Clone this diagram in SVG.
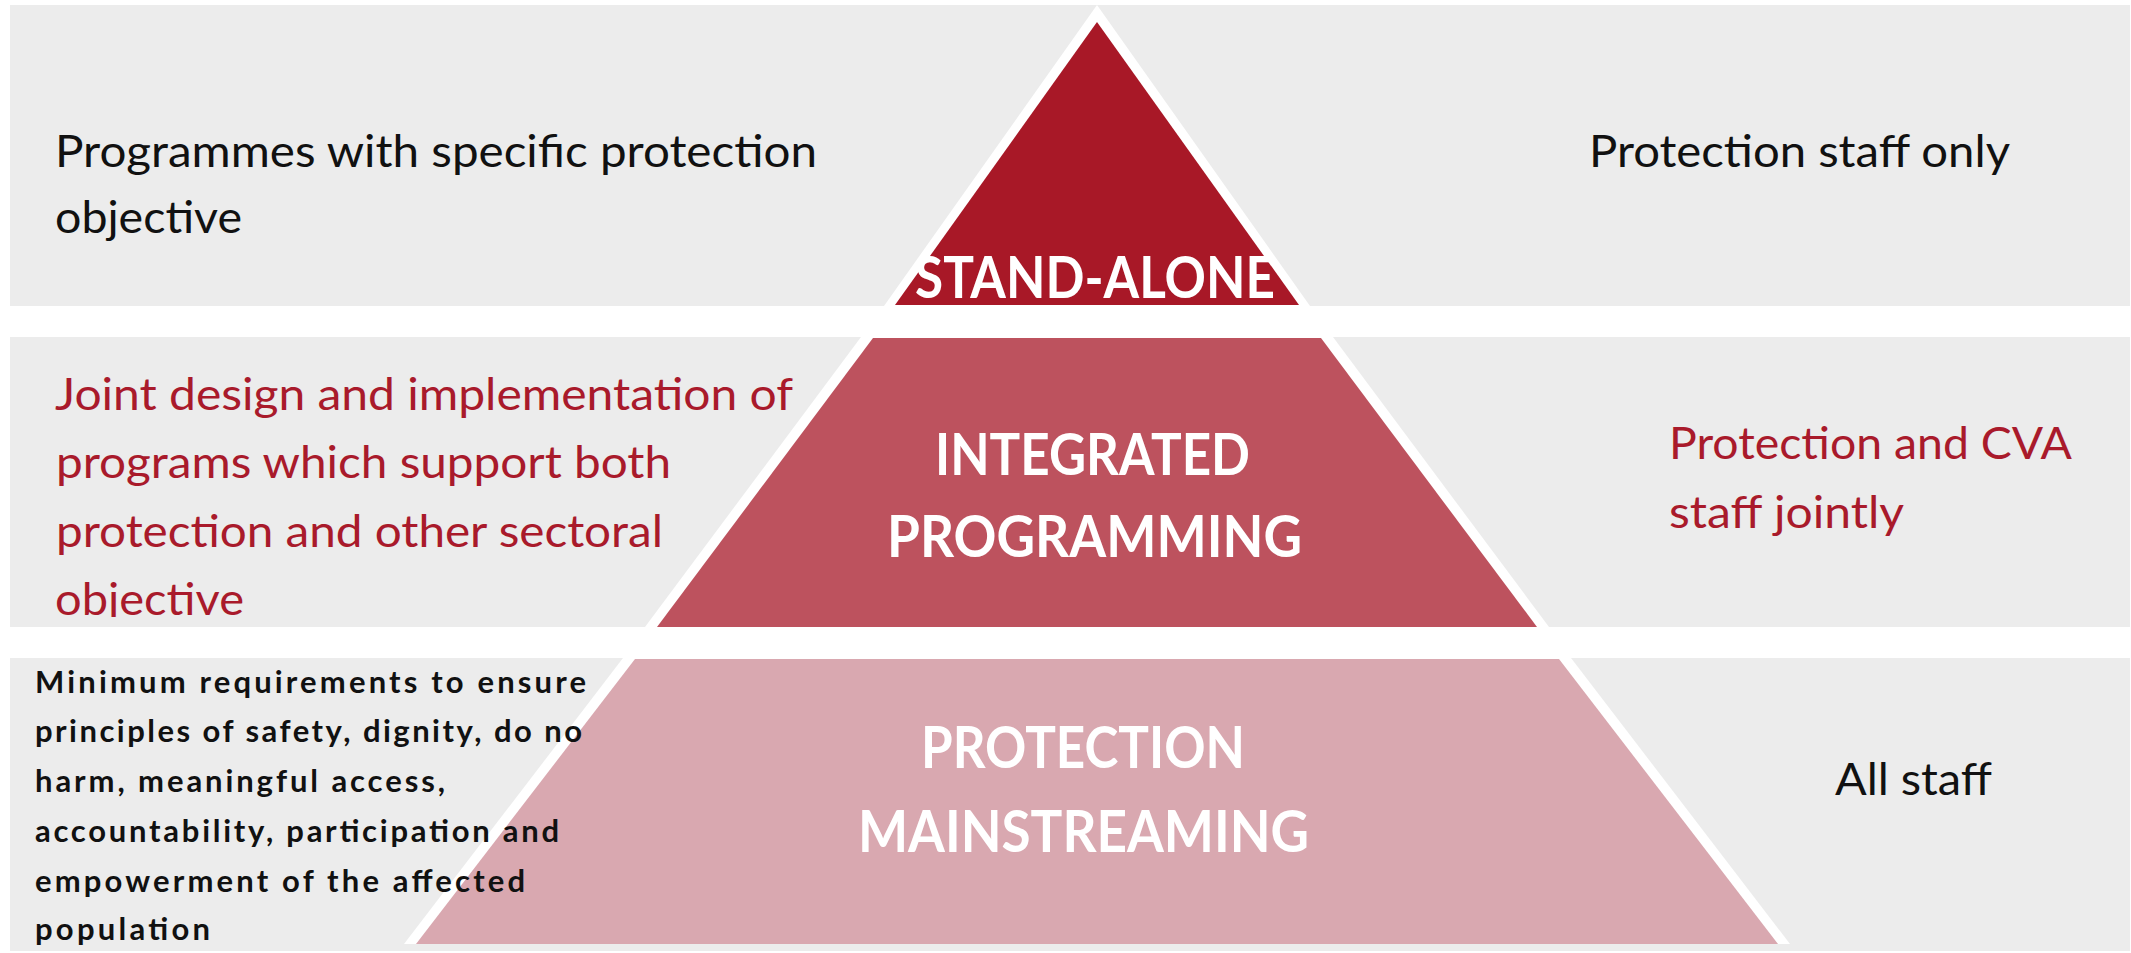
<svg xmlns="http://www.w3.org/2000/svg" width="2131" height="953" viewBox="0 0 2131 953">
<style>
  .band { fill: #ECECEC; }
  .halo { fill: #FFFFFF; }
  .t1 { fill: #A81827; }
  .t2 { fill: #BD525E; }
  .t3 { fill: #D9A8B0; }
  .lbl { font-family: Lato, "Liberation Sans", Arial, sans-serif; fill: #FFFFFF; font-weight: bold; font-size: 57px; }
  .side { font-family: Lato, "Liberation Sans", Arial, sans-serif; font-size: 45px; }
  .dark { fill: #111111; }
  .red { fill: #A91A2B; }
  .small { font-family: Lato, "Liberation Sans", Arial, sans-serif; font-size: 31px; font-weight: bold; fill: #111111; }
</style>
<defs>
  <clipPath id="midclip"><rect x="0" y="330" width="2131" height="287"/></clipPath>
</defs>
<rect x="0" y="0" width="2131" height="953" fill="#FFFFFF"/>

<g id="tier-standalone">
  <rect class="band" x="10" y="5" width="2120" height="301"/>
  <polygon class="halo" points="1097,5 1310,306 884,306"/>
  <polygon class="t1" points="1097,22 1299,305 895,305"/>
  <text class="lbl" x="915" y="298" textLength="360" lengthAdjust="spacingAndGlyphs">STAND-ALONE</text>
  <text class="side dark" x="55" y="167" textLength="762" lengthAdjust="spacingAndGlyphs">Programmes with specific protection</text>
  <text class="side dark" x="55" y="233" textLength="187" lengthAdjust="spacingAndGlyphs">objective</text>
  <text class="side dark" x="1589" y="167" textLength="421" lengthAdjust="spacingAndGlyphs">Protection staff only</text>
</g>

<g id="tier-integrated">
  <rect class="band" x="10" y="337" width="2120" height="290"/>
  <polygon class="halo" points="861,337 1333,337 1549,627 645,627"/>
  <polygon class="t2" points="873,338 1321,338 1537,627 657,627"/>
  <text class="lbl" x="935" y="475" textLength="315" lengthAdjust="spacingAndGlyphs">INTEGRATED</text>
  <text class="lbl" x="887" y="557" textLength="415" lengthAdjust="spacingAndGlyphs">PROGRAMMING</text>
  <g clip-path="url(#midclip)">
    <text class="side red" x="55" y="410" textLength="738" lengthAdjust="spacingAndGlyphs">Joint design and implementation of</text>
    <text class="side red" x="56" y="478" textLength="615" lengthAdjust="spacingAndGlyphs">programs which support both</text>
    <text class="side red" x="56" y="547" textLength="607" lengthAdjust="spacingAndGlyphs">protection and other sectoral</text>
    <text class="side red" x="55" y="615" textLength="189" lengthAdjust="spacingAndGlyphs">objective</text>
  </g>
  <text class="side red" x="1669" y="459" textLength="403" lengthAdjust="spacingAndGlyphs">Protection and CVA</text>
  <text class="side red" x="1669" y="528" textLength="235" lengthAdjust="spacingAndGlyphs">staff jointly</text>
</g>

<g id="tier-mainstreaming">
  <rect class="band" x="10" y="658" width="2120" height="293"/>
  <polygon class="halo" points="623,658 1571,658 1790,944 404,944"/>
  <polygon class="t3" points="635,659 1559,659 1778,944 416,944"/>
  <text class="lbl" x="921" y="768" textLength="324" lengthAdjust="spacingAndGlyphs">PROTECTION</text>
  <text class="lbl" x="858" y="852" textLength="451" lengthAdjust="spacingAndGlyphs">MAINSTREAMING</text>
  <text class="small" x="35" y="693" textLength="551">Minimum requirements to ensure</text>
  <text class="small" x="35" y="742" textLength="547">principles of safety, dignity, do no</text>
  <text class="small" x="35" y="792" textLength="410">harm, meaningful access,</text>
  <text class="small" x="35" y="842" textLength="524">accountability, participation and</text>
  <text class="small" x="35" y="892" textLength="490">empowerment of the affected</text>
  <text class="small" x="35" y="940" textLength="175">population</text>
  <text class="side dark" x="1835" y="795" textLength="157" lengthAdjust="spacingAndGlyphs">All staff</text>
</g>

<g id="connectors"/>
</svg>
